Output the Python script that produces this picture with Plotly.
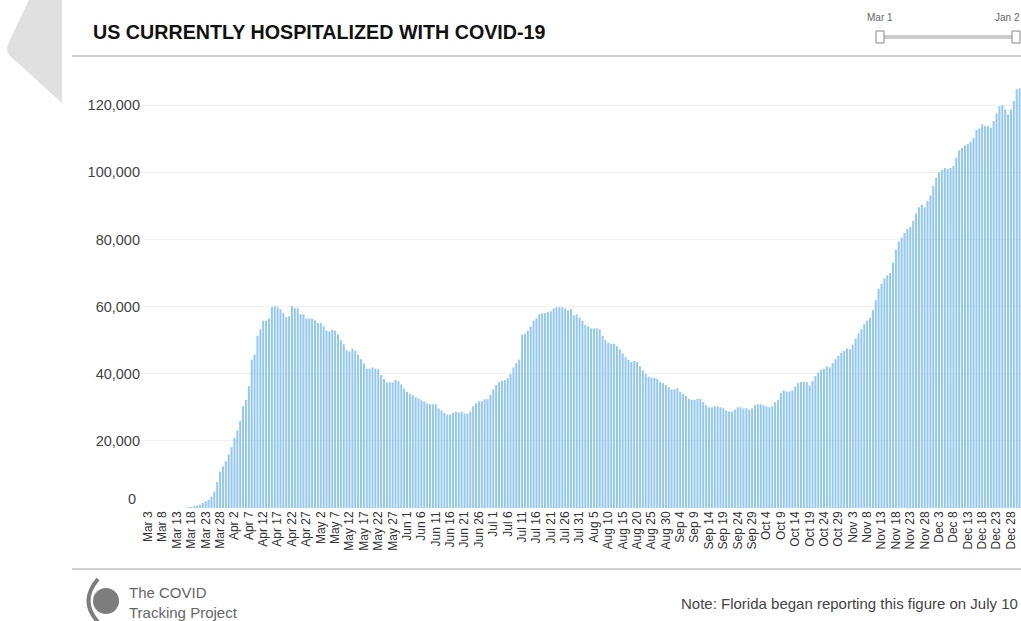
import pandas as pd
import plotly.graph_objects as go

# ---------------- data (US currently hospitalized, daily) ----------------
START_DATE = "2020-03-01"
END_DATE = "2020-12-31"

mar = [0] * 16 + [100, 250, 450, 650, 1000, 1450, 2000, 2500, 3400, 4900, 7700,
                  10800, 12400, 13900, 15900]
apr = [18100, 20900, 23100, 25900, 30300, 32200, 36300, 44200, 45700, 51300,
       53200, 55800, 55800, 56400, 59800, 60100, 59800, 59200, 58000, 56800,
       57100, 60100, 59500, 59500, 57700, 57700, 56400, 56400, 56400, 55900]
may = [55100, 55100, 54100, 52800, 52600, 53100, 52800, 51700, 50000, 48800,
       47000, 46600, 47500, 46900, 45700, 44300, 43100, 41500, 41500, 41900,
       41500, 41300, 39600, 38400, 37400, 37400, 37400, 38100, 37800, 36800, 35600]
jun = [34600, 34000, 33600, 33000, 32600, 32100, 31700, 31100, 30900, 30900,
       30900, 29700, 29000, 28300, 27800, 27800, 28400, 28700, 28400, 28700,
       28100, 28100, 28700, 30300, 31200, 31800, 31800, 32400, 32400, 33700]
jul = [35300, 36600, 37500, 37800, 38100, 38700, 40000, 41900, 43200, 44200,
       51600, 51900, 52800, 54100, 55800, 56400, 57700, 58000, 58000, 58300,
       58600, 59500, 59800, 59800, 59800, 59500, 58900, 59200, 57400, 57700, 56700]
aug = [55800, 54500, 54100, 53500, 53500, 53500, 53200, 51300, 50000, 49200,
       48900, 48900, 48200, 47200, 46000, 45000, 44100, 43500, 43800, 43500,
       42200, 41000, 40000, 39100, 38800, 38800, 38500, 37500, 37200, 36600, 35900]
sep = [35300, 35300, 35700, 34600, 34000, 33400, 32500, 32200, 32200, 32500,
       32500, 31500, 30600, 30000, 30000, 30300, 30300, 30000, 29700, 29000,
       28700, 28700, 29300, 30000, 30000, 29700, 29700, 29300, 29700, 30600]
oct_ = [30900, 30900, 30600, 30300, 30000, 30300, 31500, 32200, 34300, 35000,
        34700, 34700, 35000, 36200, 37200, 37500, 37500, 37500, 36500, 37800,
        39300, 40300, 41200, 41500, 42200, 41900, 43100, 44300, 45300, 46200, 46800]
nov = [47500, 47300, 48600, 50500, 52000, 53300, 54800, 55800, 56700, 59000,
       61900, 65300, 66800, 68400, 69300, 70000, 73100, 76900, 79400, 80600,
       81900, 83100, 83700, 85500, 87700, 89600, 90300, 89600, 91500, 93100]
dec = [95900, 98400, 100000, 100700, 101300, 101000, 101300, 101900, 104300, 106600,
       107200, 108000, 108400, 109100, 110300, 112700, 113000, 114300, 113700, 113700,
       113300, 115300, 117500, 119700, 120000, 118700, 117200, 118700, 121200, 124700, 125000]

hospitalized = mar + apr + may + jun + jul + aug + sep + oct_ + nov + dec
dates = pd.date_range(START_DATE, END_DATE, freq="D")

tick_dates = pd.date_range("2020-03-03", "2020-12-28", freq="5D")
tick_labels = [f"{d:%b} {d.day}" for d in tick_dates]
y_ticks = [0, 20000, 40000, 60000, 80000, 100000, 120000]
y_tick_labels = ["", "20,000", "40,000", "60,000", "80,000", "100,000", "120,000"]

TITLE = "US CURRENTLY HOSPITALIZED WITH COVID-19"
NOTE = "Note: Florida began reporting this figure on July 10"

# ---------------- layout geometry ----------------
W, H = 1021, 621
L, R, T, B = 141, 0, 85, 113
PW, PH = W - L - R, H - T - B


def px(x):
    return (x - L) / PW


def py(y):
    return (H - B - y) / PH


FONT = "Liberation Sans, Arial, sans-serif"

fig = go.Figure()
fig.add_trace(go.Bar(
    x=dates, y=hospitalized,
    marker=dict(color="#94c8f3", line=dict(width=0)),
    hoverinfo="x+y",
))

shapes = []
# left grey chevron
shapes.append(dict(type="path", xref="paper", yref="paper",
                   path=(f"M {px(29)},{py(0)} L {px(62)},{py(0)} L {px(62)},{py(103)} "
                         f"L {px(10)},{py(56)} Q {px(5)},{py(50)} {px(9)},{py(42)} Z"),
                   fillcolor="#e0e0e0", line=dict(width=0), layer="below"))
# header / footer rules
shapes.append(dict(type="line", xref="paper", yref="paper",
                   x0=px(72), x1=px(1021), y0=py(56), y1=py(56),
                   line=dict(color="#d0d0d0", width=2)))
shapes.append(dict(type="line", xref="paper", yref="paper",
                   x0=px(72), x1=px(1021), y0=py(569), y1=py(569),
                   line=dict(color="#d0d0d0", width=2)))
# slider track and handles
shapes.append(dict(type="line", xref="paper", yref="paper",
                   x0=px(880), x1=px(1016), y0=py(37), y1=py(37),
                   line=dict(color="#cccccc", width=4)))
for hx in (876, 1012):
    shapes.append(dict(type="rect", xref="paper", yref="paper",
                       x0=px(hx), x1=px(hx + 8), y0=py(31), y1=py(43),
                       fillcolor="white", line=dict(color="#888888", width=1)))
# logo
cx, cy, r = 106, 601, 13
shapes.append(dict(type="circle", xref="paper", yref="paper",
                   x0=px(cx - r), x1=px(cx + r), y0=py(cy + r), y1=py(cy - r),
                   fillcolor="#7d7d7d", line=dict(width=0)))
shapes.append(dict(type="path", xref="paper", yref="paper",
                   path=(f"M {px(98)},{py(579)} Q {px(79)},{py(601)} {px(98)},{py(622)}"),
                   line=dict(color="#7d7d7d", width=4)))

annotations = [
    dict(text=f"<b>{TITLE}</b>", xref="paper", yref="paper", x=px(91), y=py(32),
         xanchor="left", yanchor="middle", showarrow=False,
         font=dict(family=FONT, size=19.7, color="#111111")),
    dict(text="0", xref="paper", yref="paper", x=px(138), y=py(499),
         xanchor="right", yanchor="middle", showarrow=False,
         font=dict(family=FONT, size=14.5, color="#444444")),
    dict(text="Mar 1", xref="paper", yref="paper", x=px(880), y=py(17),
         xanchor="center", yanchor="middle", showarrow=False,
         font=dict(family=FONT, size=10, color="#666666")),
    dict(text="Jan 2", xref="paper", yref="paper", x=px(1007), y=py(17),
         xanchor="center", yanchor="middle", showarrow=False,
         font=dict(family=FONT, size=10, color="#666666")),
    dict(text="The COVID<br>Tracking Project", xref="paper", yref="paper", x=px(127), y=py(602),
         xanchor="left", yanchor="middle", showarrow=False, align="left",
         font=dict(family=FONT, size=15, color="#666666")),
    dict(text=NOTE, xref="paper", yref="paper", x=px(1020), y=py(603),
         xanchor="right", yanchor="middle", showarrow=False,
         font=dict(family=FONT, size=15, color="#444444")),
]

fig.update_layout(
    width=W, height=H,
    margin=dict(l=L, r=R, t=T, b=B, pad=0),
    paper_bgcolor="white", plot_bgcolor="white",
    bargap=0.3, showlegend=False,
    shapes=shapes, annotations=annotations,
    font=dict(family=FONT, color="#333333"),
)
fig.update_xaxes(
    type="date",
    range=[pd.Timestamp(START_DATE) - pd.Timedelta(hours=12),
           pd.Timestamp(END_DATE) + pd.Timedelta(hours=12)],
    tickvals=list(tick_dates), ticktext=tick_labels, tickangle=-90,
    tickfont=dict(family=FONT, size=12, color="#333333"),
    showgrid=False, showline=False, zeroline=False, ticks="",
)
fig.update_yaxes(
    range=[0, 126000], tickvals=y_ticks, ticktext=y_tick_labels,
    tickfont=dict(family=FONT, size=14.5, color="#444444"),
    showgrid=True, gridcolor="#f0f0f0", gridwidth=1,
    zeroline=False, showline=False, ticks="",
)

fig.write_html(
    "out.html",
    config={"displayModeBar": False},
    post_script=("document.body.style.margin='0';"
                 "document.body.style.overflow='hidden';"
                 "document.documentElement.style.overflow='hidden';"),
)
